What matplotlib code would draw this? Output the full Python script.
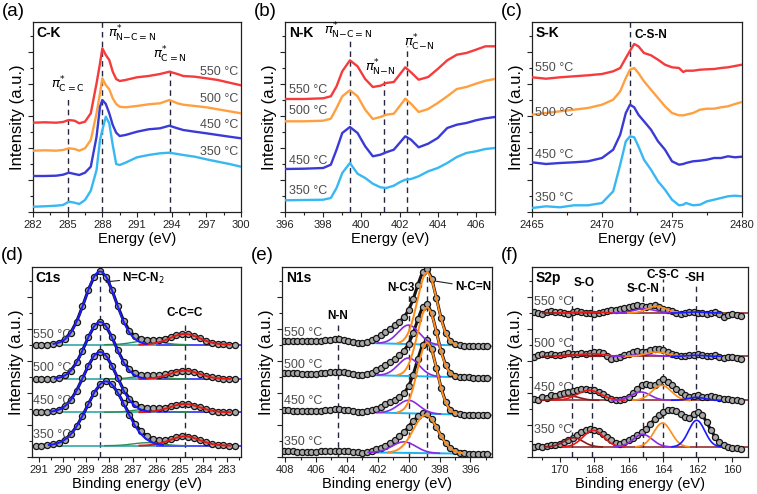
import matplotlib
matplotlib.use("Agg")
import matplotlib.pyplot as plt
import numpy as np
from matplotlib.ticker import MultipleLocator, AutoMinorLocator

plt.rcParams["font.family"] = ["Liberation Sans", "DejaVu Sans"]
plt.rcParams["mathtext.fontset"] = "dejavusans"

# ── Data ──────────────────────────────────────────────────────────────────────
temps = ["550 °C", "500 °C", "450 °C", "350 °C"]
line_colors = ["#f53b3b", "#ffa040", "#3a3ad6", "#38b8f2"]

# (a) C-K edge NEXAFS, curves stacked as plotted (550, 500, 450, 350)
ck_energy = [282, 283, 284, 284.6, 285.1, 285.6, 286.0, 286.5, 287.0, 287.5, 287.8, 288.0,
             288.3, 288.6, 288.9, 289.2, 289.5, 290.0, 291, 292, 293, 293.8, 294.5, 295,
             296, 297, 298, 299, 300]
ck_550 = [89.3, 89.7, 89.3, 90.0, 92.0, 91.3, 88.7, 90.3, 98.7, 128.7, 148.7, 163.7, 157.0,
          152.0, 140.3, 133.0, 131.0, 132.0, 134.7, 136.0, 138.0, 140.3, 138.0, 136.0, 135.3,
          133.7, 132.0, 129.3, 126.7]
ck_500 = [61.3, 61.7, 61.3, 62.0, 63.7, 63.0, 61.3, 63.7, 72.0, 98.7, 118.7, 133.7, 127.0,
          122.7, 113.7, 108.0, 105.3, 104.7, 106.0, 107.7, 108.7, 112.0, 108.7, 107.3, 106.0,
          104.7, 102.7, 100.7, 98.7]
ck_450 = [36.0, 36.0, 36.3, 37.3, 39.3, 38.0, 37.0, 39.3, 45.3, 75.3, 105.3, 112.0, 108.0,
          98.7, 87.0, 79.3, 76.0, 77.0, 80.3, 82.7, 83.7, 86.3, 83.7, 82.0, 80.3, 78.7, 77.0,
          75.3, 73.7]
ck_350 = [5.3, 5.7, 6.3, 7.0, 10.3, 9.3, 8.0, 12.0, 21.3, 42.0, 72.0, 82.0, 95.3, 88.7, 67.0,
          48.0, 47.0, 49.3, 54.7, 57.0, 58.7, 59.3, 58.0, 57.0, 55.3, 52.7, 50.3, 48.0, 45.3]

# (b) N-K edge NEXAFS
nk_energy = [396, 397, 398, 398.4, 398.7, 399.0, 399.4, 399.8, 400.2, 400.6, 401.0, 401.3,
             401.7, 402.0, 402.3, 402.6, 403.0, 403.5, 404.0, 404.5, 405.0, 405.5, 406.0,
             406.5, 407.0]
nk_550 = [113.0, 113.0, 113.7, 115.7, 125.7, 140.7, 151.7, 145.7, 133.0, 125.0, 126.3, 129.0,
          130.0, 137.3, 144.7, 139.7, 132.3, 135.0, 143.0, 151.7, 157.3, 159.0, 162.3, 165.7,
          165.7]
nk_500 = [90.7, 90.7, 91.3, 93.3, 104.0, 115.7, 121.7, 115.7, 102.3, 93.0, 95.0, 97.3, 98.3,
          105.7, 113.3, 108.3, 100.0, 103.0, 109.0, 115.7, 123.0, 125.0, 128.3, 131.3, 133.0]
nk_450 = [43.0, 43.3, 44.0, 47.3, 62.3, 79.0, 85.0, 79.0, 65.7, 55.7, 57.3, 59.7, 62.3, 69.0,
          75.7, 72.3, 64.7, 68.3, 74.0, 84.0, 87.3, 89.0, 91.7, 93.7, 95.0]
nk_350 = [11.7, 12.0, 12.3, 14.0, 24.0, 39.0, 49.0, 38.3, 34.0, 28.3, 24.7, 24.0, 26.3, 29.7,
          32.3, 33.0, 35.7, 40.7, 44.0, 49.0, 55.0, 59.0, 60.7, 63.0, 64.0]

# (c) S-K edge NEXAFS
sk_energy = [2465, 2466, 2467, 2468, 2469, 2470, 2470.8, 2471.3, 2471.7, 2472.0, 2472.3,
             2472.6, 2473.0, 2473.5, 2474.0, 2474.5, 2475.0, 2475.5, 2475.8, 2476.0, 2476.5,
             2477.0, 2477.5, 2478.0, 2478.5, 2479.0, 2479.5, 2480.0]
sk_550 = [134.7, 133.3, 134.7, 135.7, 136.7, 138.0, 140.7, 144.0, 154.0, 161.3, 168.0, 165.7,
          159.0, 156.7, 152.3, 147.3, 144.7, 144.0, 140.0, 141.3, 141.3, 142.3, 142.7, 143.0,
          144.0, 144.7, 146.0, 147.3]
sk_500 = [97.3, 99.0, 100.7, 102.3, 104.0, 107.3, 112.3, 120.7, 134.0, 142.3, 144.0, 139.0,
          130.7, 122.3, 114.0, 105.7, 99.0, 96.7, 96.7, 97.3, 99.0, 102.3, 103.3, 103.3, 104.7,
          105.7, 108.0, 110.0]
sk_450 = [49.7, 48.0, 49.0, 49.7, 50.7, 54.0, 62.3, 77.3, 99.0, 107.3, 104.7, 97.3, 90.7,
          82.3, 70.7, 62.3, 50.7, 47.3, 48.0, 49.0, 50.7, 51.3, 52.3, 54.0, 54.0, 55.7, 54.7,
          55.3]
sk_350 = [4.0, 5.7, 4.7, 6.7, 6.7, 9.0, 20.7, 47.3, 70.7, 75.7, 74.7, 65.7, 52.3, 42.3, 30.7,
          22.3, 12.3, 6.7, 7.3, 9.0, 6.7, 7.3, 10.7, 12.3, 14.0, 15.7, 16.3, 15.7]

# (d) C1s XPS: measured points
c1s_energy = np.linspace(291.15, 282.65, 35)
c1s_550 = [112.5, 112.4, 112.5, 113.0, 114.4, 117.8, 124.4, 135.4, 150.6, 167.2, 180.5, 185.6,
           180.5, 167.4, 151.0, 136.4, 126.2, 120.6, 118.2, 117.5, 117.3, 117.5, 118.5, 120.1,
           121.9, 123.0, 122.7, 121.1, 118.7, 116.3, 114.4, 113.3, 112.7, 112.4, 112.3]
c1s_500 = [78.0, 78.0, 78.1, 78.4, 79.3, 81.6, 86.3, 94.6, 106.5, 119.9, 130.8, 135.0, 130.8,
           120.0, 106.8, 95.3, 87.7, 83.7, 82.2, 81.8, 81.7, 82.0, 82.8, 84.1, 85.5, 86.3, 86.1,
           84.8, 82.9, 81.1, 79.6, 78.7, 78.3, 78.1, 78.0]
c1s_450 = [44.7, 44.8, 45.0, 45.7, 47.4, 50.8, 57.0, 66.5, 78.7, 91.4, 101.3, 105.0, 101.3,
           91.5, 79.0, 67.2, 58.4, 52.9, 50.3, 49.1, 48.6, 48.8, 49.5, 50.8, 52.2, 53.0, 52.8,
           51.5, 49.6, 47.8, 46.3, 45.4, 45.0, 44.8, 44.7]
c1s_350 = [11.4, 11.5, 11.8, 12.6, 14.3, 17.4, 22.7, 30.7, 41.1, 53.0, 64.3, 72.6, 75.6, 72.7,
           64.6, 53.7, 42.5, 32.8, 25.6, 20.8, 18.0, 16.8, 17.0, 18.2, 19.7, 20.6, 20.4, 18.9,
           16.8, 14.7, 13.1, 12.1, 11.6, 11.4, 11.3]
# (d) fit components: (centre eV, height, FWHM eV) per temperature
c1s_base = [112.3, 78.0, 44.7, 11.3]
c1s_ncn = [(288.4, 73.3, 1.55), (288.4, 57.0, 1.5), (288.4, 60.3, 1.65), (288.15, 64.3, 1.9)]
c1s_ccc = [(284.8, 10.7, 1.5), (284.8, 8.3, 1.5), (284.8, 8.3, 1.5), (284.8, 9.3, 1.5)]
c1s_co = [(286.4, 4.0, 1.4), (286.4, 3.0, 1.4), (286.4, 3.0, 1.4), (286.4, 3.0, 1.4)]

# (e) N1s XPS: measured points
n1s_energy = np.linspace(408.1, 394.9, 45)
n1s_550 = [116.3, 116.1, 116.0, 115.9, 115.8, 115.6, 115.6, 115.8, 116.1, 116.6, 117.3, 117.8,
           117.8, 117.2, 116.3, 115.4, 114.3, 113.7, 114.8, 116.7, 119.0, 122.1, 125.3, 128.5,
           131.6, 135.2, 139.8, 146.9, 157.9, 172.3, 185.0, 188.4, 178.4, 159.0, 138.9, 124.1,
           116.3, 113.0, 111.9, 111.5, 111.3, 111.2, 111.1, 110.9, 110.8]
n1s_500 = [84.0, 83.9, 83.7, 83.6, 83.5, 83.4, 83.4, 83.5, 83.8, 84.2, 84.8, 85.2, 85.1, 84.6,
           83.9, 83.2, 82.3, 82.1, 83.2, 84.4, 86.6, 89.3, 92.3, 95.2, 98.3, 101.8, 106.3, 113.2,
           123.9, 137.7, 150.1, 153.4, 143.8, 125.2, 105.8, 91.9, 84.3, 81.2, 80.1, 79.8, 79.6,
           79.5, 79.4, 79.2, 79.1]
n1s_450 = [46.7, 46.6, 46.5, 46.4, 46.2, 46.1, 46.1, 46.2, 46.5, 47.0, 47.5, 47.9, 47.8, 47.3,
           46.6, 45.9, 45.0, 44.7, 45.6, 46.6, 48.3, 50.4, 52.7, 54.9, 57.1, 59.7, 63.7, 70.8,
           82.5, 98.2, 112.4, 117.0, 107.8, 89.0, 69.2, 54.9, 47.1, 43.9, 42.8, 42.4, 42.2, 42.1,
           42.0, 41.9, 41.8]
n1s_350 = [5.7, 5.6, 5.6, 5.5, 5.5, 5.4, 5.4, 5.5, 5.6, 5.9, 6.2, 6.5, 6.5, 6.2, 5.7, 5.3, 4.6,
           4.1, 4.7, 6.3, 7.7, 9.5, 11.5, 14.3, 17.3, 20.7, 24.8, 29.9, 35.6, 40.9, 44.0, 43.1,
           38.1, 30.1, 21.3, 14.0, 8.9, 5.9, 4.4, 3.7, 3.4, 3.2, 3.2, 3.1, 3.1]
# (e) fit components; baseline given as (value at 408.2 eV, value at 394.6 eV)
n1s_base = [(116.3, 110.7), (84.0, 79.0), (46.7, 41.7), (5.7, 3.0)]
n1s_ncn = [(398.8, 72, 1.5), (398.8, 69, 1.5), (398.8, 71, 1.5), (398.9, 38, 1.9)]
n1s_nc3 = [(400.0, 19, 1.6), (400.0, 18, 1.6), (400.0, 13, 1.6), (400.3, 11, 1.8)]
n1s_nn = [(404.6, 3.0, 1.6), (404.6, 2.5, 1.6), (404.6, 2.5, 1.6), (404.6, 1.5, 1.6)]

# (f) S2p XPS: measured points
s2p_energy = np.linspace(171.5, 159.5, 49)
s2p_550 = [145.0, 144.0, 143.3, 144.7, 145.7, 145.0, 145.0, 144.0, 143.3, 144.7, 145.7, 145.0,
           144.3, 143.7, 143.3, 144.3, 145.0, 146.0, 146.7, 147.3, 148.3, 149.3, 150.0, 151.0,
           151.7, 150.7, 150.0, 151.0, 151.7, 150.3, 148.3, 147.0, 145.7, 144.3, 143.3, 144.3,
           145.0, 144.7, 144.0, 143.7, 143.3, 144.3, 145.0, 142.7, 140.0, 141.7, 143.3, 142.0,
           141.0]
s2p_500 = [100.0, 101.7, 102.7, 102.0, 103.3, 102.3, 101.7, 103.0, 104.0, 103.3, 102.7, 103.7,
           103.3, 104.3, 105.0, 104.7, 104.0, 101.0, 98.3, 99.0, 100.0, 102.0, 103.3, 104.7,
           106.0, 105.3, 105.0, 107.0, 108.3, 108.0, 107.3, 105.3, 103.3, 101.7, 100.7, 101.3,
           101.7, 102.3, 102.7, 101.7, 100.7, 101.0, 101.7, 100.3, 99.3, 99.7, 100.0, 99.0, 98.3]
s2p_450 = [58.3, 57.3, 60.0, 59.3, 61.7, 61.0, 62.7, 64.3, 65.0, 65.7, 66.7, 67.7, 68.3, 67.3,
           66.7, 65.3, 63.3, 60.3, 58.3, 57.0, 56.7, 57.7, 60.0, 64.0, 68.3, 71.7, 73.3, 72.0,
           71.7, 74.7, 78.3, 75.0, 71.7, 68.3, 65.0, 62.0, 60.0, 61.0, 61.7, 60.3, 60.0, 61.0,
           60.0, 59.0, 58.3, 57.7, 56.7, 57.3, 56.0]
s2p_350 = [10.0, 10.7, 10.3, 11.3, 11.7, 12.3, 13.3, 14.7, 16.7, 19.0, 21.7, 24.7, 26.7, 27.7,
           27.3, 25.7, 23.3, 20.0, 16.7, 14.3, 13.3, 14.7, 16.7, 19.0, 21.7, 24.7, 28.3, 33.0,
           38.3, 42.3, 45.0, 46.7, 47.3, 46.0, 43.3, 40.3, 39.3, 42.7, 45.0, 42.3, 35.0, 27.0,
           20.0, 15.0, 11.7, 10.0, 9.3, 8.7, 8.3]
# (f) fit components per temperature: S-O(a), S-O(b), S-C-N, C-S-C, -SH
s2p_base = [144.0, 100.7, 56.7, 10.0]
s2p_peaks = [
    [(169.3, 0.5, 1.3), (168.2, 1.0, 1.6), (165.1, 4.3, 1.4), (164.4, 6.7, 1.3), (162.1, 1.0, 1.1)],
    [(169.3, 1.5, 1.3), (168.2, 2.7, 1.6), (165.2, 1.7, 1.4), (164.4, 4.3, 1.4), (162.1, 1.0, 1.1)],
    [(169.4, 4.3, 1.3), (168.3, 10.0, 1.6), (165.3, 8.3, 1.3), (164.1, 15.0, 1.3), (162.1, 3.0, 1.1)],
    [(169.2, 9.3, 1.3), (168.05, 16.7, 1.4), (165.2, 12.7, 1.3), (164.05, 24.0, 1.2), (162.07, 26.7, 1.1)],
]
s2p_colors = ["#8c1c1c", "#e81818", "#8a2be2", "#ff8c1a", "#1a1aff"]

# ── Style ─────────────────────────────────────────────────────────────────────
W, H = 757, 494
DASH = "#262640"
TEMP_GREY = "#4d4d4d"
PT_FACE, PT_EDGE = "#a8a8a8", "#141414"
ANN = 8.5   # bold annotation size

fig = plt.figure(figsize=(W / 100, H / 100), dpi=100)


def gauss(x, peak):
    c, h, w = peak
    g = h * np.exp(-4 * np.log(2) * (x - c) ** 2 / w ** 2)
    return np.where(g > 0.01 * h, g, np.nan)


def frame(box, xlim, step, xlabel, letter, tag):
    l, t, r, b = box
    ax = fig.add_axes([l / W, 1 - b / H, (r - l) / W, (b - t) / H])
    ax.set_xlim(*xlim)
    ax.set_ylim(0, 190)
    ax.xaxis.set_major_locator(MultipleLocator(step))
    ax.xaxis.set_minor_locator(AutoMinorLocator(2))
    ax.yaxis.set_major_locator(MultipleLocator(32))
    ax.yaxis.set_minor_locator(AutoMinorLocator(2))
    ax.tick_params(which="both", direction="out", top=False, right=False,
                   labelleft=False, width=0.8, colors="#222")
    ax.tick_params(which="major", length=3.5, labelsize=8, pad=2)
    ax.tick_params(which="minor", length=2)
    for s in ax.spines.values():
        s.set_linewidth(0.9)
        s.set_color("#222")
    ax.set_xlabel(xlabel, fontsize=10.5, labelpad=2)
    ax.text(-0.075, 0.5, "Intensity (a.u.)", transform=ax.transAxes, rotation=90,
            ha="center", va="center", fontsize=12)
    ax.text(0.018, 0.94, tag, transform=ax.transAxes, fontsize=10,
            fontweight="bold", ha="left", va="center")
    fig.text((l - 31) / W, 1 - (t - 11) / H, letter, fontsize=13.5, ha="left", va="center")
    return ax


def vdash(ax, x, top):
    ax.plot([x, x], [0, top], color=DASH, lw=1.0, ls=(0, (4, 3)), zorder=1)


def temp_labels(ax, x, ys, ha="left"):
    for name, y in zip(temps, ys):
        ax.text(x, y, name, fontsize=9, color=TEMP_GREY, ha=ha, va="center", zorder=6)


def points(ax, e, v):
    ax.plot(e, v, color=PT_EDGE, lw=2.2, zorder=2)
    ax.plot(e, v, ls="none", marker="o", ms=4.4, mfc=PT_FACE, mec=PT_EDGE, mew=0.9, zorder=2)


def pi_label(sub):
    return r"$\pi^{*}_{\mathrm{" + sub + r"}}$"


# ── (a) C-K ───────────────────────────────────────────────────────────────────
ax = frame((33, 22, 241, 212), (282, 300), 3, "Energy (eV)", "(a)", "C-K")
for v, c in zip([ck_550, ck_500, ck_450, ck_350], line_colors):
    ax.plot(ck_energy, v, color=c, lw=1.7, zorder=3)
vdash(ax, 285.05, 115)
vdash(ax, 287.95, 190)
vdash(ax, 293.85, 144)
ax.text(285.05, 127, pi_label("C{=}C"), ha="center", va="center", fontsize=9.5)
ax.text(288.5, 178, pi_label("N{-}C{=}N"), ha="left", va="center", fontsize=9.5)
ax.text(293.85, 157, pi_label("C{=}N"), ha="center", va="center", fontsize=9.5)
temp_labels(ax, 299.8, [140.3, 112.7, 87, 60.3], ha="right")

# ── (b) N-K ───────────────────────────────────────────────────────────────────
ax = frame((285, 22, 495, 212), (396, 407), 2, "Energy (eV)", "(b)", "N-K")
for v, c in zip([nk_550, nk_500, nk_450, nk_350], line_colors):
    ax.plot(nk_energy, v, color=c, lw=1.7, zorder=3)
vdash(ax, 399.4, 172)
vdash(ax, 401.2, 131)
vdash(ax, 402.4, 166)
ax.text(399.3, 181, pi_label("N{-}C{=}N"), ha="center", va="center", fontsize=9.5)
ax.text(401.0, 144, pi_label("N{-}N"), ha="center", va="center", fontsize=9.5)
ax.text(403.0, 169, pi_label("C{-}N"), ha="center", va="center", fontsize=9.5)
temp_labels(ax, 396.2, [122.3, 100.7, 50.7, 20.7])

# ── (c) S-K ───────────────────────────────────────────────────────────────────
ax = frame((532, 22, 742, 212), (2465, 2480), 5, "Energy (eV)", "(c)", "S-K")
for v, c in zip([sk_550, sk_500, sk_450, sk_350], line_colors):
    ax.plot(sk_energy, v, color=c, lw=1.7, zorder=3)
vdash(ax, 2472.0, 190)
ax.text(2472.3, 177, "C-S-N", fontsize=ANN, fontweight="bold", ha="left", va="center")
temp_labels(ax, 2465.2, [144, 99, 57.3, 14])

# ── (d) C1s ───────────────────────────────────────────────────────────────────
ax = frame((32, 267, 241, 457), (291.3, 282.4), 1, "Binding energy (eV)", "(d)", "C1s")
xf = np.linspace(291.3, 282.4, 400)
vdash(ax, 288.4, 187)
vdash(ax, 284.8, 132)
left = xf >= 286.0
for v, base, p1, p2, p3 in zip([c1s_550, c1s_500, c1s_450, c1s_350],
                                c1s_base, c1s_ncn, c1s_ccc, c1s_co):
    points(ax, c1s_energy, v)
    ax.plot(xf[left], np.full(left.sum(), base), color="#1f9f9f", lw=1.1, zorder=1.5)
    ax.plot(xf[~left], np.full((~left).sum(), base), color="#1a1aff", lw=1.1, zorder=1.5)
    ax.plot(xf, base + gauss(xf, p3), color="#2e8b57", lw=1.0, zorder=1.5)
    ax.plot(xf, base + gauss(xf, p2), color="#e01818", lw=1.4, zorder=3)
    ax.plot(xf, base + gauss(xf, p1), color="#1a1aff", lw=1.4, zorder=4)
ax.annotate("N=C-N$_2$", xy=(288.2, 175), xytext=(287.45, 179), fontsize=ANN,
            fontweight="bold", ha="left", va="center",
            arrowprops=dict(arrowstyle="-|>", color="#222", lw=0.8, mutation_scale=7,
                            shrinkA=0, shrinkB=0))
ax.text(284.8, 144, "C-C=C", fontsize=ANN, fontweight="bold", ha="center", va="center")
temp_labels(ax, 291.25, [122.3, 89, 55.7, 22.3])

# ── (e) N1s ───────────────────────────────────────────────────────────────────
ax = frame((282, 267, 492, 457), (408.2, 394.6), 2, "Binding energy (eV)", "(e)", "N1s")
xf = np.linspace(408.2, 394.6, 400)
vdash(ax, 404.6, 134)
vdash(ax, 400.0, 162)
vdash(ax, 398.8, 182)
for v, (bl, br), p1, p2, p3 in zip([n1s_550, n1s_500, n1s_450, n1s_350],
                                    n1s_base, n1s_ncn, n1s_nc3, n1s_nn):
    base = br + (bl - br) * (xf - 394.6) / (408.2 - 394.6)
    points(ax, n1s_energy, v)
    ax.plot(xf, base, color="#1fb4f0", lw=1.4, zorder=1.5)
    ax.plot(xf, base + gauss(xf, p3), color="#2a2ad0", lw=1.1, zorder=1.6)
    ax.plot(xf, base + gauss(xf, p2), color="#8a2be2", lw=1.2, zorder=3)
    ax.plot(xf, base + gauss(xf, p1), color="#ff8c1a", lw=1.4, zorder=4)
ax.text(404.6, 141, "N-N", fontsize=ANN, fontweight="bold", ha="center", va="center")
ax.text(400.5, 169, "N-C3", fontsize=ANN, fontweight="bold", ha="center", va="center")
ax.annotate("N-C=N", xy=(398.2, 175.7), xytext=(397.0, 170), fontsize=ANN,
            fontweight="bold", ha="left", va="center",
            arrowprops=dict(arrowstyle="-", color="#222", lw=0.8, shrinkA=0, shrinkB=0))
temp_labels(ax, 408.05, [124, 92.3, 55.7, 15])

# ── (f) S2p ───────────────────────────────────────────────────────────────────
ax = frame((532, 267, 748, 457), (171.6, 159.1), 2, "Binding energy (eV)", "(f)", "S2p")
xf = np.linspace(171.6, 159.1, 400)
for x, top in zip([169.3, 168.1, 165.2, 164.0, 162.1], [162, 167, 163, 178, 175]):
    vdash(ax, x, top)
for v, base, peaks in zip([s2p_550, s2p_500, s2p_450, s2p_350], s2p_base, s2p_peaks):
    points(ax, s2p_energy, v)
    ax.plot(xf, np.full_like(xf, base), color="#8c1c1c", lw=1.1, zorder=1.5)
    for p, c in zip(peaks, s2p_colors):
        ax.plot(xf, base + gauss(xf, p), color=c, lw=1.2, zorder=3)
ax.text(168.6, 174, "S-O", fontsize=ANN, fontweight="bold", ha="center", va="center")
ax.text(165.2, 168, "S-C-N", fontsize=ANN, fontweight="bold", ha="center", va="center")
ax.text(164.0, 182, "C-S-C", fontsize=ANN, fontweight="bold", ha="center", va="center")
ax.text(162.2, 179, "-SH", fontsize=ANN, fontweight="bold", ha="center", va="center")
temp_labels(ax, 171.5, [155, 113.3, 69, 27.3])

fig.savefig("out.png", dpi=100)
